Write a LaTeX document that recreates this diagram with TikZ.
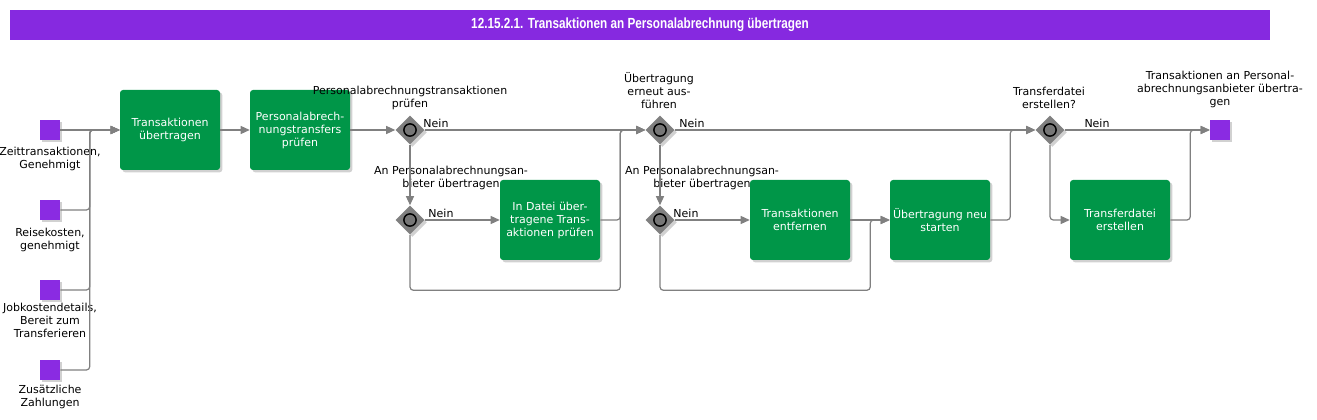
\documentclass[tikz,border=0pt]{standalone}
\usepackage{fontspec}
\setmainfont{DejaVu Sans}
\newfontfamily\titlefont[FakeStretch=0.8]{Liberation Sans}
\usetikzlibrary{arrows.meta,shapes.geometric,shadows,calc}
\definecolor{tgreen}{RGB}{0,150,72}
\definecolor{evpurple}{RGB}{138,43,226}
\definecolor{titlepurple}{RGB}{134,41,224}
\definecolor{flowgray}{RGB}{128,128,128}
\begin{document}
\begin{tikzpicture}[x=0.75pt,y=-0.75pt,
  font=\fontsize{8.25}{9.75}\selectfont,
  shad/.style={drop shadow={shadow xshift=1.8pt,shadow yshift=-1.8pt,opacity=0.3,fill=black!60}},
  task/.style={rectangle,rounded corners=2.25pt,fill=tgreen,text=white,minimum width=75pt,minimum height=60pt,inner sep=1pt,align=center,shad},
  event/.style={rectangle,fill=evpurple,minimum size=15pt,inner sep=0pt,shad},
  gw/.style={diamond,fill=flowgray,minimum width=21.75pt,minimum height=21.75pt,inner sep=0pt,shad},
  lbl/.style={align=center,inner sep=0pt,text=black},
  flow/.style={draw=flowgray,line width=0.9pt,rounded corners=2.5pt,-{Triangle[length=6.75pt,width=6pt]}},
]
\useasboundingbox (0,0) rectangle (1317,420);
\node[fill=titlepurple,minimum width=945pt,minimum height=22.5pt,inner sep=0pt,text=white,font=\titlefont\bfseries\fontsize{11}{12}\selectfont] (title) at (640,25) {12.15.2.1. Transaktionen an Personalabrechnung übertragen};

% events
\node[event] (e1) at (50,130) {};
\node[event] (e2) at (50,210) {};
\node[event] (e3) at (50,290) {};
\node[event] (e4) at (50,370) {};
\node[event] (end) at (1220,130) {};
\node[lbl] (le1) at (50,159) {Zeittransaktionen,\\Genehmigt};
\node[lbl] (le2) at (50,239.5) {Reisekosten,\\genehmigt};
\node[lbl] (le3) at (50,320) {Jobkostendetails,\\Bereit zum\\Transferieren};
\node[lbl] (le4) at (50,396.5) {Zusätzliche\\Zahlungen};
\node[lbl] (lend) at (1220,89) {Transaktionen an Personal-\\abrechnungsanbieter übertra-\\gen};

% tasks
\node[task] (t1) at (170,130) {Transaktionen\\übertragen};
\node[task] (t2) at (300,130) {Personalabrech-\\nungstransfers\\prüfen};
\node[task] (t3) at (550,220) {In Datei über-\\tragene Trans-\\aktionen prüfen};
\node[task] (t4) at (800,220) {Transaktionen\\entfernen};
\node[task] (t5) at (940,220) {Übertragung neu\\starten};
\node[task] (t6) at (1120,220) {Transferdatei\\erstellen};

% gateways
\node[gw] (g1) at (410,130) {};
\node[gw] (g2) at (410,220) {};
\node[gw] (g3) at (660,130) {};
\node[gw] (g4) at (660,220) {};
\node[gw] (g5) at (1050,130) {};
\foreach \g in {g1,g2,g3,g4,g5}
  \draw[line width=1.1pt,fill=flowgray!92!black] (\g) circle[radius=4.6pt];

\node[lbl] (lg1) at (410,97.5) {Personalabrechnungstransaktionen\\prüfen};
\node[lbl] (lg2) at (451,177.5) {An Personalabrechnungsan-\\bieter übertragen};
\node[lbl] (lg3) at (659,91) {Übertragung\\erneut aus-\\führen};
\node[lbl] (lg4) at (702,177.5) {An Personalabrechnungsan-\\bieter übertragen};
\node[lbl] (lg5) at (1049,98) {Transferdatei\\erstellen?};

% "Nein" labels
\node[lbl] (n1) at (436,123) {Nein};
\node[lbl] (n2) at (441,213) {Nein};
\node[lbl] (n3) at (692,123) {Nein};
\node[lbl] (n4) at (686,213) {Nein};
\node[lbl] (n5) at (1097,123) {Nein};

% connectors
\draw[flow] (e1.east) -- (t1.west);
\draw[flow] (e2.east) -| ($(t1.west)+(-30,0)$) -- (t1.west);
\draw[flow] (e3.east) -| ($(t1.west)+(-30,0)$) -- (t1.west);
\draw[flow] (e4.east) -| ($(t1.west)+(-30,0)$) -- (t1.west);
\draw[flow] (t1.east) -- (t2.west);
\draw[flow] (t2.east) -- (g1.west);
\draw[flow] (g1.east) -- (g3.west);
\draw[flow] (g1.south) -- (g2.north);
\draw[flow] (g2.east) -- (t3.west);
\draw[flow] (g2.south) |- ($(t3.south east)+(20,30)$) |- (g3.west);
\draw[flow] (t3.east) -- ++(20,0) |- (g3.west);
\draw[flow] (g3.south) -- (g4.north);
\draw[flow] (g3.east) -- (g5.west);
\draw[flow] (g4.east) -- (t4.west);
\draw[flow] (g4.south) |- ($(t4.south east)+(20,30)$) |- (t5.west);
\draw[flow] (t4.east) -- (t5.west);
\draw[flow] (t5.east) -- ++(20,0) |- (g5.west);
\draw[flow] (g5.east) -- (end.west);
\draw[flow] (g5.south) |- (t6.west);
\draw[flow] (t6.east) -- ++(20,0) |- (end.west);
\end{tikzpicture}
\end{document}
